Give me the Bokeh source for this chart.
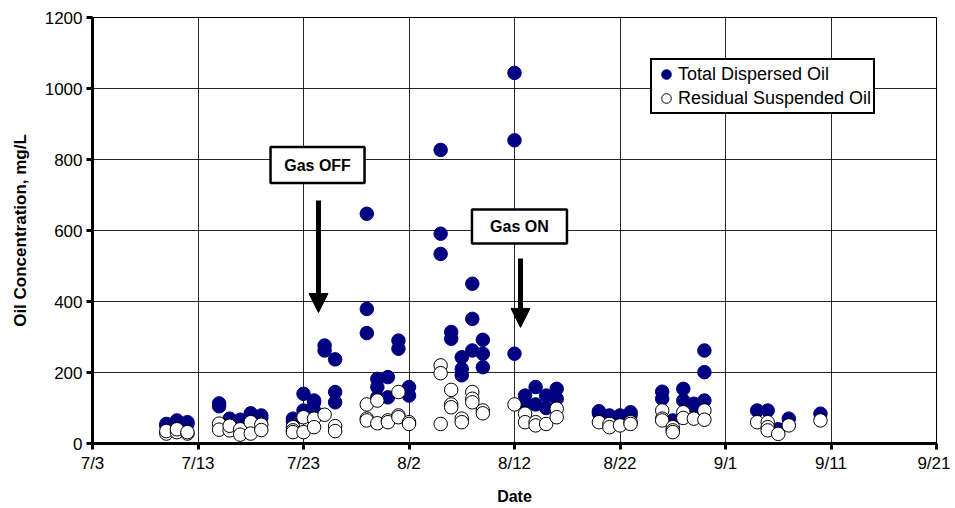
import pandas as pd
from bokeh.plotting import figure
from bokeh.models import (ColumnDataSource, FixedTicker, Label, Arrow, NormalHead,
                          Legend, LegendItem, Range1d)
from bokeh.embed import file_html
from bokeh.resources import INLINE

# ---------------- data ----------------
tick_labels = ["7/3", "7/13", "7/23", "8/2", "8/12", "8/22", "9/1", "9/11", "9/21"]
y_ticks = [0, 200, 400, 600, 800, 1000, 1200]

tdo_dates = ["7/10", "7/10", "7/11", "7/11", "7/12", "7/12",
             "7/15", "7/15", "7/16", "7/16", "7/17", "7/17", "7/18", "7/18", "7/19", "7/19",
             "7/22", "7/22", "7/23", "7/23", "7/24", "7/24", "7/24", "7/25", "7/25",
             "7/26", "7/26", "7/26",
             "7/29", "7/29", "7/29", "7/30", "7/30", "7/30", "7/31", "7/31", "8/1", "8/1",
             "8/2", "8/2",
             "8/5", "8/5", "8/5", "8/6", "8/6", "8/7", "8/7", "8/7", "8/8", "8/8", "8/8",
             "8/9", "8/9", "8/9",
             "8/12", "8/12", "8/12", "8/13", "8/13", "8/14", "8/14", "8/15", "8/15",
             "8/16", "8/16",
             "8/20", "8/20", "8/21", "8/22", "8/23", "8/23",
             "8/26", "8/26", "8/27", "8/28", "8/28", "8/29", "8/29", "8/30", "8/30", "8/30",
             "9/4", "9/5", "9/6", "9/7", "9/10"]
tdo_vals = [55, 50, 65, 58, 60, 55,
            113, 105, 70, 62, 67, 60, 85, 75, 79, 72,
            70, 62, 140, 93, 121, 116, 93, 276, 262,
            237, 145, 116,
            647, 379, 311, 182, 159, 130, 187, 130, 290, 267,
            159, 135,
            827, 591, 534, 314, 295, 243, 210, 192, 450, 351, 262,
            292, 253, 215,
            1044, 854, 253, 135, 112, 159, 110, 135, 100,
            154, 126,
            91, 85, 79, 79, 88, 80,
            146, 126, 65, 154, 121, 112, 100, 262, 201, 121,
            93, 93, 40, 70, 84]

rso_dates = ["7/10", "7/10", "7/11", "7/11", "7/12", "7/12",
             "7/15", "7/15", "7/16", "7/16", "7/17", "7/17", "7/18", "7/18", "7/19", "7/19",
             "7/22", "7/22", "7/22", "7/23", "7/23", "7/24", "7/24", "7/25", "7/26", "7/26",
             "7/29", "7/29", "7/29", "7/30", "7/30", "7/31", "7/31", "8/1", "8/1", "8/1",
             "8/2", "8/2",
             "8/5", "8/5", "8/5", "8/6", "8/6", "8/6", "8/7", "8/7", "8/8", "8/8", "8/8",
             "8/9", "8/9",
             "8/12", "8/13", "8/13", "8/14", "8/14", "8/15", "8/16", "8/16",
             "8/20", "8/21", "8/21", "8/22", "8/23", "8/23",
             "8/26", "8/26", "8/26", "8/27", "8/27", "8/27", "8/28", "8/28", "8/29",
             "8/30", "8/30",
             "9/4", "9/5", "9/5", "9/5", "9/6", "9/7", "9/10"]
rso_vals = [28, 35, 32, 40, 28, 32,
            56, 39, 37, 50, 40, 25, 60, 28, 53, 38,
            46, 37, 32, 74, 32, 70, 46, 81, 49, 35,
            110, 70, 65, 121, 57, 65, 60, 145, 79, 74,
            60, 55,
            220, 198, 55, 151, 110, 102, 70, 60, 145, 126, 116,
            93, 85,
            110, 84, 60, 60, 51, 55, 98, 74,
            60, 55, 46, 51, 60, 55,
            93, 70, 65, 46, 37, 32, 88, 72, 70,
            93, 67,
            60, 60, 46, 37, 27, 51, 65]

start = pd.Timestamp("2000-07-03")


def to_days(lst):
    return [(pd.Timestamp("2000/" + d) - start).days for d in lst]


tick_days = to_days(tick_labels)

tdo_src = ColumnDataSource(dict(x=to_days(tdo_dates), y=tdo_vals))
rso_src = ColumnDataSource(dict(x=to_days(rso_dates), y=rso_vals))

FONT = "Liberation Sans"

p = figure(width=950, height=507, output_backend="svg", toolbar_location=None,
           x_range=Range1d(0, 80), y_range=Range1d(0, 1200),
           min_border_left=92, min_border_right=14, min_border_top=17, min_border_bottom=64)
p.outline_line_color = "black"
p.outline_line_width = 1

r1 = p.scatter("x", "y", source=tdo_src, size=13.5, fill_color="#000080", line_color="#000080")
r2 = p.scatter("x", "y", source=rso_src, size=13.5, fill_color="white", line_color="black",
               line_width=1)

# axes
p.xaxis.ticker = FixedTicker(ticks=tick_days)
p.xaxis.major_label_overrides = {d: lab for d, lab in zip(tick_days, tick_labels)}
p.yaxis.ticker = FixedTicker(ticks=y_ticks)
for ax in (p.xaxis[0], p.yaxis[0]):
    ax.axis_line_width = 3
    ax.axis_line_color = "black"
    ax.major_tick_line_width = 3
    ax.major_tick_line_color = "black"
    ax.major_tick_out = 6
    ax.major_tick_in = 0
    ax.minor_tick_line_color = None
    ax.major_label_text_font = FONT
    ax.major_label_text_font_size = "17px"
    ax.major_label_text_color = "black"
    ax.axis_label_text_font = FONT
    ax.axis_label_text_font_style = "bold"
    ax.axis_label_text_color = "black"
p.xaxis.axis_label = "Date"
p.yaxis.axis_label = "Oil Concentration, mg/L"
p.xaxis.axis_label_text_font_size = "16px"
p.yaxis.axis_label_text_font_size = "17px"
p.xaxis.major_label_standoff = 4
p.yaxis.major_label_standoff = 4
p.xaxis.axis_label_standoff = 12
p.yaxis.axis_label_standoff = 12

p.xgrid.ticker = FixedTicker(ticks=tick_days)
p.ygrid.ticker = FixedTicker(ticks=y_ticks)
for g in (p.xgrid[0], p.ygrid[0]):
    g.grid_line_color = "black"
    g.grid_line_width = 1
    g.grid_line_alpha = 0.85

# annotation boxes
box_x = [21.33, 40.47]
box_y = [784.5, 611]
box_w = [94, 95]
box_txt = ["Gas OFF", "Gas ON"]
p.rect(x=box_x, y=box_y, width=box_w, height=[36, 34], width_units="screen",
       height_units="screen", fill_color="white", line_color="black", line_width=2.5)
for bx, by, bt in zip(box_x, box_y, box_txt):
    p.add_layout(Label(x=bx, y=by, text=bt, text_align="center", text_baseline="middle",
                       text_font=FONT, text_font_size="16px", text_font_style="bold",
                       text_color="black"))

p.add_layout(Arrow(end=NormalHead(size=19, fill_color="black", line_color="black", line_width=1),
                   x_start=21.42, y_start=684.5, x_end=21.42, y_end=369,
                   line_width=5, line_color="black"))
p.add_layout(Arrow(end=NormalHead(size=19, fill_color="black", line_color="black", line_width=1),
                   x_start=40.57, y_start=521, x_end=40.57, y_end=327,
                   line_width=5, line_color="black"))

legend = Legend(items=[LegendItem(label="Total Dispersed Oil", renderers=[r1]),
                       LegendItem(label="Residual Suspended Oil", renderers=[r2])],
                location=(558, 329))
legend.border_line_color = "black"
legend.border_line_alpha = 1.0
legend.border_line_width = 2
legend.background_fill_color = "white"
legend.background_fill_alpha = 1.0
legend.label_text_font = FONT
legend.label_text_font_size = "18px"
legend.label_text_color = "black"
legend.glyph_width = 24
legend.glyph_height = 24
legend.label_standoff = 0
legend.spacing = 0
legend.padding = 2
legend.margin = 0
legend.label_height = 23
p.add_layout(legend)

open("out.html", "w").write(file_html(p, INLINE))
